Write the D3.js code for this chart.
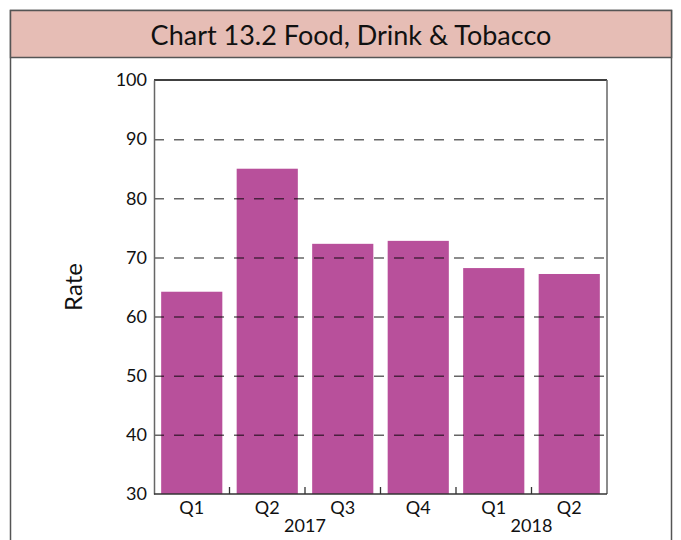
<!DOCTYPE html>
<html>
<head>
<meta charset="utf-8">
<script src="https://cdn.jsdelivr.net/npm/d3@7"></script>
<style>
  body { margin: 0; background: #fff; }
  text { font-family: Lato, "Open Sans", sans-serif; fill: #111; }
</style>
</head>
<body>
<div id="chart"></div>
<script>
var quarters = ["Q1", "Q2", "Q3", "Q4", "Q1", "Q2"];
var years = ["2017", "2017", "2017", "2017", "2018", "2018"];
var rates = [64.2, 85.0, 72.3, 72.8, 68.2, 67.2];
var yTicks = [30, 40, 50, 60, 70, 80, 90, 100];
var title = "Chart 13.2 Food, Drink & Tobacco";

var W = 681, H = 540;
var margin = { top: 80, right: 74, bottom: 46, left: 154 };
var width = W - margin.left - margin.right;
var height = H - margin.top - margin.bottom;

var data = quarters.map(function (q, i) {
    return { key: i, label: q, year: years[i], value: rates[i] };
});

var svg = d3.select("#chart").append("svg")
    .attr("width", W)
    .attr("height", H);

// outer frame + title band
svg.append("rect")
    .attr("x", 10.5).attr("y", 10.5)
    .attr("width", 661).attr("height", 560)
    .attr("fill", "#fff")
    .attr("stroke", "#555").attr("stroke-width", 1.5);

svg.append("rect")
    .attr("x", 10.5).attr("y", 10.5)
    .attr("width", 661).attr("height", 47)
    .attr("fill", "#E6BDB5")
    .attr("stroke", "#555").attr("stroke-width", 1.5);

svg.append("text")
    .attr("x", 351).attr("y", 45)
    .attr("text-anchor", "middle")
    .style("font-size", "27px")
    .text(title);

var g = svg.append("g")
    .attr("transform", "translate(" + margin.left + "," + margin.top + ")");

var xScale = d3.scaleBand()
    .domain(data.map(function (d) { return d.key; }))
    .range([0, width])
    .paddingInner(0.19)
    .paddingOuter(0.095);

var yScale = d3.scaleLinear()
    .domain([30, 100])
    .range([height, 0]);

// bars
g.append("g").attr("class", "bars")
    .selectAll("rect")
    .data(data)
    .enter()
    .append("rect")
    .attr("x", function (d) { return xScale(d.key); })
    .attr("y", function (d) { return yScale(d.value); })
    .attr("width", xScale.bandwidth())
    .attr("height", function (d) { return height - yScale(d.value); })
    .attr("fill", "#B8509B");

// dashed grid drawn over the bars
g.append("g").attr("class", "grid")
    .call(d3.axisLeft(yScale).tickValues(yTicks.slice(1, -1)).tickSize(-width).tickFormat(""))
    .call(function (s) { s.select(".domain").remove(); })
    .selectAll("line")
    .attr("stroke", "#000")
    .attr("stroke-opacity", 0.6)
    .attr("stroke-width", 1.5)
    .attr("stroke-dasharray", "10,10");

// frame of the plot area
g.append("line").attr("x1", 0).attr("x2", width).attr("y1", 0).attr("y2", 0)
    .attr("stroke", "#000").attr("stroke-width", 1.3);
g.append("line").attr("x1", width).attr("x2", width).attr("y1", 0).attr("y2", height)
    .attr("stroke", "#666").attr("stroke-width", 1.5);

// y axis
var yAxis = g.append("g").attr("class", "y axis")
    .call(d3.axisLeft(yScale).tickValues(yTicks).tickSize(0).tickPadding(7));
yAxis.select(".domain").attr("stroke", "#666").attr("stroke-width", 1.5);
yAxis.selectAll("text").style("font-size", "18px").attr("fill", "#111");

// x axis with boundary ticks pointing up
var xAxis = g.append("g").attr("class", "x axis")
    .attr("transform", "translate(0," + height + ")");
xAxis.append("line").attr("x1", 0).attr("x2", width)
    .attr("stroke", "#333").attr("stroke-width", 1.5);
xAxis.selectAll(".sep")
    .data(data.slice(1))
    .enter()
    .append("line")
    .attr("class", "sep")
    .attr("x1", function (d) { return xScale(d.key) - xScale.step() * xScale.paddingInner() / 2; })
    .attr("x2", function (d) { return xScale(d.key) - xScale.step() * xScale.paddingInner() / 2; })
    .attr("y1", 0).attr("y2", -7)
    .attr("stroke", "#333").attr("stroke-width", 1.3);

xAxis.selectAll(".qlabel")
    .data(data)
    .enter()
    .append("text")
    .attr("class", "qlabel")
    .attr("x", function (d) { return xScale(d.key) + xScale.bandwidth() / 2; })
    .attr("y", 20)
    .attr("text-anchor", "middle")
    .style("font-size", "18px")
    .text(function (d) { return d.label; });

// year labels centred under each year's quarters
var yearGroups = d3.groups(data, function (d) { return d.year; });
xAxis.selectAll(".ylabel")
    .data(yearGroups)
    .enter()
    .append("text")
    .attr("class", "ylabel")
    .attr("x", function (yg) {
        var first = yg[1][0], last = yg[1][yg[1].length - 1];
        return (xScale(first.key) + xScale(last.key) + xScale.bandwidth()) / 2;
    })
    .attr("y", 38)
    .attr("text-anchor", "middle")
    .style("font-size", "18px")
    .text(function (yg) { return yg[0]; });

// y label
svg.append("text")
    .attr("transform", "translate(82," + (margin.top + height / 2) + ") rotate(-90)")
    .attr("text-anchor", "middle")
    .style("font-size", "24px")
    .text("Rate");
</script>
</body>
</html>
